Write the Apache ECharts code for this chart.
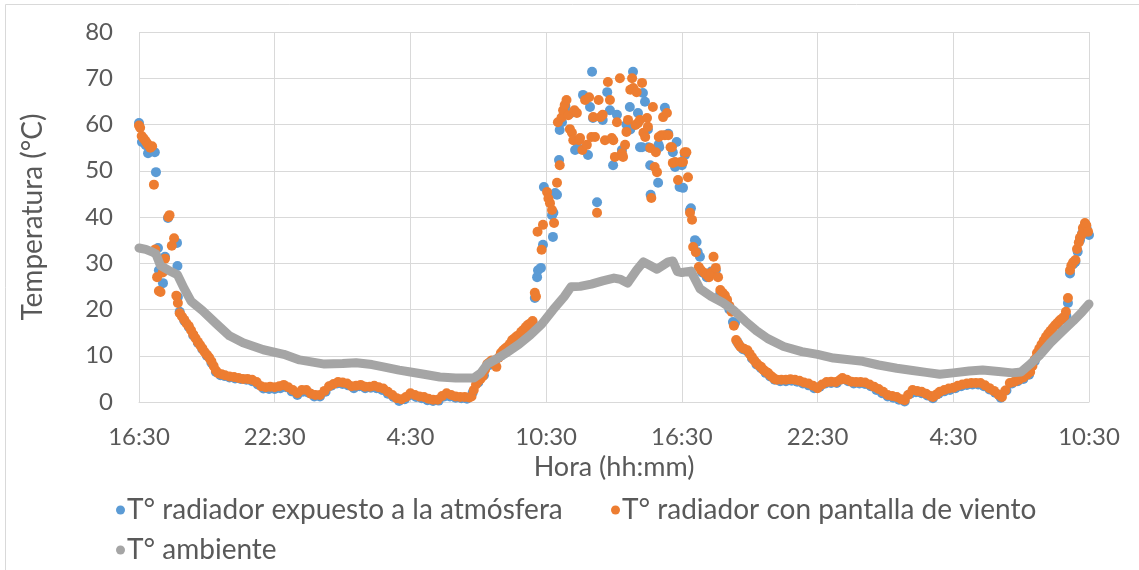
<!DOCTYPE html>
<html>
<head>
<meta charset="utf-8">
<script src="https://cdn.jsdelivr.net/npm/echarts@6/dist/echarts.min.js"></script>
<style>
html,body{margin:0;padding:0;background:#fff;}
#chart{width:1139px;height:570px;}
</style>
</head>
<body>
<div id="chart"></div>
<script>
// Hours elapsed since 16:30 of day 1
const horaEtiquetas = ['16:30','22:30','4:30','10:30','16:30','22:30','4:30','10:30'];
const nombreExpuesto = 'T° radiador expuesto a la atmósfera';
const nombrePantalla = 'T° radiador con pantalla de viento';
const nombreAmbiente = 'T° ambiente';

// [hora, °C] T° radiador expuesto a la atmósfera
const expuesto = [
[0,60.3],[0.13,56.2],[0.3,55.5],[0.4,53.8],[0.55,54.5],[0.7,54.0],[0.75,49.7],[0.84,33.3],[0.88,28.5],[1.06,25.7],[1.15,31.4],[1.28,39.8],[1.68,34.4],[1.7,29.4],[1.72,22.7],
[1.8,19.5],[2.0,17.6],[2.2,16.2],[2.4,14.4],[2.6,12.8],[2.8,11.4],[3.0,10.0],[3.2,8.5],[3.4,6.5],[3.6,5.8],[3.8,5.6],[4.0,5.3],[4.25,5.1],[4.5,5.0],[4.75,4.8],[5.0,4.5],[5.25,3.8],[5.5,2.9],[5.75,2.8],[6.0,2.8],[6.25,3.0],[6.5,3.2],[6.75,2.3],[7.0,1.5],[7.25,2.2],[7.5,2.0],[7.75,1.2],[8.0,1.2],[8.25,2.2],[8.5,3.5],[8.75,4.0],[9.0,3.9],[9.25,3.6],[9.5,3.0],[9.75,3.4],[10.0,3.0],[10.25,3.1],[10.5,3.0],[10.75,2.6],[11.0,1.8],[11.25,1.1],[11.5,0.2],[11.75,0.6],[12.0,1.5],[12.25,1.1],[12.5,0.8],[12.75,0.4],[13.0,0.2],[13.25,0.3],[13.5,1.2],[13.75,1.2],[14.0,0.9],[14.25,0.8],[14.5,0.7],[14.75,2.0],[15.0,4.2],[15.25,5.8],[15.5,8.0],[15.75,9.0],[16.0,10.0],[16.25,11.6],[16.5,13.0],[16.75,14.0],[17.0,15.2],[17.25,16.4],[17.4,17.2],
[17.5,22.5],[17.6,27.0],[17.64,28.5],[17.77,29.0],[17.86,34.0],[17.9,46.5],[18.26,40.4],[18.3,35.7],[18.32,40.9],[18.4,45.2],[18.48,44.8],[18.57,52.3],[18.6,58.8],[18.7,60.5],[18.85,64.0],[19.1,62.5],[19.28,54.5],[19.4,55.0],[19.63,66.4],[19.85,53.4],[19.94,63.8],[20.03,71.4],[20.07,61.4],[20.25,43.2],[20.5,61.0],[20.7,67.0],[20.82,63.1],[20.96,51.2],[21.13,62.1],[21.35,54.5],[21.55,60.0],[21.7,63.8],[21.72,58.9],[21.84,71.4],[22.06,62.5],[22.15,55.1],[22.24,55.1],[22.28,66.8],[22.37,64.9],[22.5,58.9],[22.52,55.1],[22.6,51.2],[22.62,44.8],[22.95,47.4],[22.97,55.6],[23.0,55.1],[23.25,63.6],[23.4,58.0],[23.6,54.0],[23.7,50.8],[23.77,56.2],[23.9,46.5],[24.0,51.2],[24.05,46.3],[24.14,53.4],[24.36,41.5],[24.4,41.9],[24.58,35.0],[24.65,34.6],[24.7,32.4],[24.8,31.4],
[24.9,28.0],[25.1,27.0],[25.3,28.2],[25.5,28.5],[25.7,23.5],[25.9,22.7],[26.1,20.0],[26.26,17.3],[26.35,17.1],
[26.45,13.0],[26.55,12.2],[26.7,11.4],[26.9,10.9],[27.1,9.4],[27.3,8.1],[27.5,7.3],[27.7,6.3],[27.9,5.5],[28.1,4.8],[28.35,4.5],[28.6,4.5],[28.85,4.6],[29.1,4.4],[29.35,4.0],[29.6,3.6],[29.85,3.0],[30.1,3.3],[30.35,4.0],[30.6,4.1],[30.85,4.1],[31.1,4.9],[31.35,4.5],[31.6,4.0],[31.85,4.0],[32.1,3.9],[32.35,3.4],[32.6,2.6],[32.85,1.9],[33.1,1.2],[33.35,0.9],[33.6,0.5],[33.85,0.1],[34.1,1.8],[34.35,2.1],[34.6,1.9],[34.85,1.4],[35.1,0.8],[35.35,1.8],[35.6,2.3],[35.85,2.6],[36.1,3.0],[36.35,3.4],[36.6,3.7],[36.85,3.8],[37.1,3.8],[37.35,3.4],[37.6,2.7],[37.85,2.0],[38.1,0.9],[38.35,2.5],[38.6,4.0],[38.85,4.5],[39.1,5.0],[39.35,5.9],[39.6,8.8],[39.85,11.6],[40.1,13.8],[40.35,15.3],[40.6,16.8],[40.85,17.9],[41.0,18.6],[41.07,21.4],[41.16,27.8],[41.3,29.8],[41.4,30.3],[41.5,32.5],[41.6,35.0],[41.7,36.5],[41.8,38.0],[41.9,37.5],[42.0,36.1]
];

// [hora, °C] T° radiador con pantalla de viento
const pantalla = [
[0,59.8],[0.05,59.3],[0.12,57.5],[0.2,57.0],[0.28,56.5],[0.35,56.0],[0.42,55.5],[0.5,55.0],[0.58,55.3],[0.66,47.0],[0.72,33.0],[0.8,27.0],[0.88,24.0],[0.95,23.8],[1.05,28.0],[1.15,31.0],[1.3,40.0],[1.35,40.4],[1.45,33.8],[1.55,35.4],[1.65,23.0],[1.72,21.4],
[1.8,19.2],[1.9,18.5],[2.0,17.8],[2.1,17.0],[2.2,16.4],[2.3,15.5],[2.4,14.6],[2.5,13.8],[2.6,13.0],[2.7,12.3],[2.8,11.6],[2.9,10.8],[3.0,10.2],[3.1,9.6],[3.2,8.8],[3.3,7.8],[3.4,6.8],[3.5,6.2],[3.65,6.0],[3.8,5.8],[4.0,5.5],[4.2,5.4],[4.4,5.2],[4.6,5.0],[4.8,5.0],[5.0,4.8],[5.2,4.3],[5.4,3.4],[5.6,3.2],[5.8,3.3],[6.0,3.2],[6.2,3.4],[6.4,3.7],[6.6,3.2],[6.8,2.6],[7.0,1.9],[7.2,2.6],[7.4,2.6],[7.6,1.8],[7.8,1.5],[8.0,1.5],[8.2,2.4],[8.4,3.4],[8.6,3.9],[8.8,4.3],[9.0,4.2],[9.2,4.0],[9.4,3.4],[9.6,3.5],[9.8,3.7],[10.0,3.3],[10.2,3.3],[10.4,3.5],[10.6,3.2],[10.8,2.9],[11.0,2.2],[11.2,1.5],[11.4,0.8],[11.6,0.6],[11.8,1.1],[12.0,1.9],[12.2,1.5],[12.4,1.2],[12.6,1.1],[12.8,0.7],[13.0,0.5],[13.2,0.5],[13.4,1.3],[13.6,1.9],[13.8,1.5],[14.0,1.2],[14.2,1.1],[14.4,1.1],[14.6,1.0],[14.7,1.2],[14.8,2.6],[14.9,3.8],[15.0,4.5],[15.1,5.0],[15.2,5.6],[15.3,7.0],[15.4,8.2],[15.5,8.6],[15.6,9.0],[15.7,8.2],[15.8,7.6],[15.9,9.6],[16.0,10.6],[16.1,11.2],[16.2,11.6],[16.3,12.0],[16.4,12.6],[16.5,13.4],[16.6,13.8],[16.7,14.2],[16.8,14.5],[16.9,15.2],[17.0,15.6],[17.1,16.2],[17.2,16.7],[17.3,17.0],[17.4,17.5],
[17.5,23.6],[17.55,22.8],[17.62,36.8],[17.8,32.9],[17.86,38.3],[18.04,45.4],[18.1,44.0],[18.17,43.0],[18.26,41.5],[18.35,38.7],[18.48,47.4],[18.52,60.5],[18.6,51.2],[18.68,61.5],[18.75,63.1],[18.82,64.2],[18.9,65.3],[18.98,62.0],[19.05,59.0],[19.14,58.2],[19.2,56.6],[19.25,63.1],[19.36,62.5],[19.45,56.6],[19.5,57.1],[19.6,54.5],[19.72,65.3],[19.8,55.6],[19.9,65.9],[20.0,57.3],[20.08,61.6],[20.16,57.3],[20.25,40.9],[20.32,65.3],[20.4,61.6],[20.5,62.1],[20.6,56.6],[20.73,69.2],[20.82,65.3],[20.9,57.1],[20.97,56.6],[21.04,53.0],[21.13,60.5],[21.26,70.0],[21.35,53.8],[21.4,53.0],[21.49,55.6],[21.55,58.4],[21.62,61.0],[21.72,67.5],[21.8,70.0],[21.85,67.9],[21.95,59.9],[22.0,67.0],[22.06,60.3],[22.15,61.0],[22.24,69.0],[22.3,58.2],[22.38,57.3],[22.46,61.4],[22.5,59.5],[22.6,54.9],[22.65,44.1],[22.72,63.8],[22.8,50.8],[22.85,54.0],[22.9,49.7],[22.98,57.3],[23.1,57.7],[23.17,61.6],[23.25,57.7],[23.34,62.5],[23.4,57.7],[23.5,55.1],[23.56,55.1],[23.6,51.7],[23.7,51.9],[23.83,48.0],[23.95,51.9],[24.05,51.9],[24.12,54.0],[24.2,54.0],[24.27,48.6],
[24.36,40.9],[24.45,39.4],[24.5,33.5],[24.62,32.4],[24.75,29.2],[24.85,28.5],[25.0,27.9],[25.1,27.5],[25.2,27.0],[25.3,28.0],[25.4,31.4],[25.5,29.0],[25.6,27.0],[25.7,24.2],[25.8,23.6],[25.9,23.1],[26.0,22.1],[26.1,20.8],[26.2,19.5],[26.3,16.5],[26.4,13.4],[26.5,12.6],[26.6,11.9],[26.75,11.5],[26.9,11.2],[27.0,10.4],[27.1,9.7],[27.2,9.0],[27.3,8.4],[27.4,7.9],[27.5,7.6],[27.6,7.0],[27.7,6.6],[27.8,6.3],[27.9,5.8],[28.0,5.4],[28.1,5.0],[28.2,4.8],[28.4,4.8],[28.6,4.8],[28.8,4.9],[29.0,4.8],[29.2,4.6],[29.4,4.2],[29.6,4.0],[29.8,3.5],[30.0,3.0],[30.2,3.8],[30.4,4.3],[30.6,4.4],[30.8,4.3],[31.0,4.8],[31.1,5.2],[31.3,4.8],[31.5,4.4],[31.7,4.3],[31.9,4.3],[32.1,4.2],[32.3,3.8],[32.5,3.3],[32.7,2.8],[32.9,2.2],[33.1,1.5],[33.3,1.3],[33.5,1.1],[33.7,0.6],[33.85,0.4],[34.0,1.5],[34.2,2.6],[34.4,2.4],[34.6,2.2],[34.8,1.8],[35.0,1.3],[35.1,1.1],[35.25,1.6],[35.4,2.2],[35.6,2.6],[35.8,2.9],[36.0,3.1],[36.2,3.5],[36.4,3.8],[36.6,4.0],[36.8,4.1],[37.0,4.1],[37.2,4.1],[37.4,3.6],[37.6,3.0],[37.8,2.4],[38.0,1.6],[38.15,1.1],[38.3,2.5],[38.5,4.1],[38.7,4.4],[38.9,4.8],[39.1,5.3],[39.25,5.9],[39.4,6.5],[39.5,7.8],[39.6,9.2],[39.7,10.6],[39.8,11.5],[39.9,12.4],[40.0,13.3],[40.1,14.1],[40.2,14.8],[40.3,15.4],[40.4,16.0],[40.5,16.6],[40.6,17.1],[40.7,17.6],[40.8,18.0],[40.9,18.4],[40.98,19.5],[41.07,22.5],[41.16,28.5],[41.22,29.5],[41.3,30.2],[41.4,30.7],[41.47,33.1],[41.55,34.5],[41.6,35.5],[41.68,36.2],[41.73,37.6],[41.82,38.7],[41.88,38.2],[41.96,36.8]
];

// [hora, °C] T° ambiente
const ambiente = [
[0,33.3],[0.3,33.0],[0.6,32.4],[0.75,32.0],[0.95,29.5],[1.3,28.5],[1.7,27.5],[2.0,24.5],[2.3,21.8],[2.8,19.8],[3.4,17.0],[4.0,14.3],[4.6,12.8],[5.5,11.3],[6.4,10.3],[7.1,9.1],[8.2,8.2],[9.0,8.3],[9.6,8.5],[10.3,8.1],[10.8,7.6],[11.5,6.9],[12.0,6.5],[12.6,6.0],[13.3,5.4],[14.0,5.2],[14.8,5.2],[15.1,6.2],[15.4,8.2],[15.8,9.3],[16.3,10.8],[16.8,12.5],[17.3,14.5],[17.8,16.8],[18.3,19.9],[18.8,22.8],[19.1,24.9],[19.5,25.0],[20.0,25.5],[20.5,26.2],[21.0,26.8],[21.3,26.5],[21.6,25.7],[22.0,28.5],[22.3,30.3],[22.6,29.5],[22.9,28.7],[23.4,30.3],[23.6,30.5],[23.8,28.2],[24.0,28.0],[24.4,28.3],[24.8,24.5],[25.3,22.8],[25.8,21.5],[26.3,19.8],[26.8,17.5],[27.3,15.4],[27.8,13.7],[28.5,12.0],[29.3,10.9],[30.0,10.3],[30.7,9.5],[31.3,9.2],[32.0,8.8],[32.7,8.0],[33.5,7.3],[34.2,6.8],[34.8,6.4],[35.4,6.0],[36.0,6.3],[36.7,6.7],[37.3,6.9],[38.0,6.6],[38.6,6.3],[39.0,6.5],[39.4,8.2],[39.8,10.0],[40.3,12.8],[40.8,15.2],[41.3,17.5],[41.7,19.5],[42.0,21.2]
];

const FONT = 'Lato, "Open Sans", sans-serif';
const TXT = '#595959';
const chart = echarts.init(document.getElementById('chart'), null, {renderer:'canvas'});
chart.setOption({
  backgroundColor:'#fff',
  animation:false,
  graphic:[{type:'rect', shape:{x:5.5,y:4.5,width:1300,height:1000}, style:{fill:'none', stroke:'#d9d9d9', lineWidth:1}, silent:true}],
  grid:{left:139, right:50, top:32, bottom:168, containLabel:false},
  xAxis:{
    type:'value', min:0, max:42, interval:6,
    name:'Hora (hh:mm)', nameLocation:'middle', nameGap:52,
    nameTextStyle:{fontFamily:FONT, fontSize:27, color:TXT},
    axisLine:{show:true, lineStyle:{color:'#d9d9d9', width:1}},
    axisTick:{show:false},
    axisLabel:{fontFamily:FONT, fontSize:24, color:TXT, margin:23, formatter:(v)=>horaEtiquetas[Math.round(v/6)]},
    splitLine:{show:true, lineStyle:{color:'#d9d9d9', width:1}}
  },
  yAxis:{
    type:'value', min:0, max:80, interval:10,
    name:'Temperatura (°C)', nameLocation:'middle', nameGap:92, nameRotate:90,
    nameTextStyle:{fontFamily:FONT, fontSize:28, color:TXT},
    axisLine:{show:false}, axisTick:{show:false},
    axisLabel:{fontFamily:FONT, fontSize:24, color:TXT, margin:26},
    splitLine:{show:true, lineStyle:{color:'#d9d9d9', width:1}}
  },
  legend:[
    {data:[{name:nombreExpuesto, icon:'circle'}], left:111, top:491, itemWidth:9, itemHeight:9, itemGap:0,
     textStyle:{fontFamily:FONT, fontSize:28, color:TXT, padding:[0,0,0,-3]}},
    {data:[{name:nombrePantalla, icon:'circle'}], left:606, top:491, itemWidth:9, itemHeight:9,
     textStyle:{fontFamily:FONT, fontSize:28, color:TXT, padding:[0,0,0,-3]}},
    {data:[{name:nombreAmbiente, icon:'circle'}], left:111, top:531, itemWidth:9, itemHeight:9,
     textStyle:{fontFamily:FONT, fontSize:28, color:TXT, padding:[0,0,0,-3]}}
  ],
  series:[
    {name:nombreExpuesto, type:'scatter', data:expuesto, symbolSize:10, itemStyle:{color:'#5B9BD5', opacity:1}},
    {name:nombrePantalla, type:'scatter', data:pantalla, symbolSize:10, itemStyle:{color:'#ED7D31', opacity:1}},
    {name:nombreAmbiente, type:'line', data:ambiente, showSymbol:false, symbol:'circle', smooth:false,
     itemStyle:{color:'#A5A5A5'}, lineStyle:{color:'#A5A5A5', width:9, cap:'round', join:'round'}}
  ]
});
</script>
</body>
</html>
